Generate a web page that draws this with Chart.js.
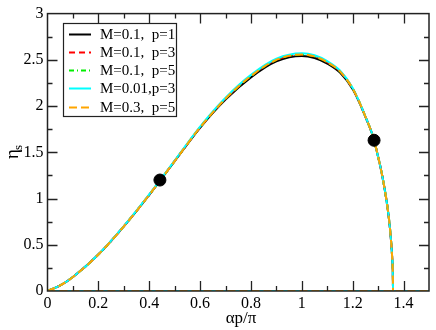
<!DOCTYPE html>
<html><head><meta charset="utf-8">
<script src="https://cdn.jsdelivr.net/npm/chart.js@4/dist/chart.umd.min.js"></script>
<style>html,body{margin:0;padding:0;background:#fff;}#wrap{width:436px;height:330px;}</style>
</head><body><div id="wrap"><canvas id="c" width="436" height="330"></canvas></div>
<script>
// ---- data ----
const xs      = [0,0.05,0.1,0.2,0.3,0.4,0.5,0.6,0.7,0.8,0.9,1.0,1.05,1.1,1.15,1.2,1.225,1.25,1.275,1.29,1.3,1.31,1.32,1.33,1.34,1.345,1.35,1.355,1.358,1.3585];
const yM03p5  = [0,0.06,0.152,0.394,0.699,1.040,1.405,1.770,2.080,2.325,2.500,2.559,2.537,2.475,2.375,2.190,2.050,1.885,1.710,1.565,1.450,1.330,1.190,1.030,0.840,0.720,0.570,0.370,0.150,0];
const yM01p1  = [0,0.06,0.152,0.394,0.699,1.040,1.405,1.765,2.070,2.310,2.483,2.542,2.520,2.460,2.362,2.183,2.046,1.883,1.710,1.565,1.450,1.330,1.190,1.030,0.840,0.720,0.570,0.370,0.150,0];
const yM01p3  = [0,0.06,0.152,0.394,0.699,1.040,1.405,1.770,2.080,2.325,2.500,2.559,2.537,2.475,2.375,2.190,2.050,1.885,1.710,1.565,1.450,1.330,1.190,1.030,0.840,0.720,0.570,0.370,0.150,0];
const yM01p5  = [0,0.06,0.152,0.394,0.699,1.040,1.405,1.770,2.080,2.325,2.500,2.559,2.537,2.475,2.375,2.190,2.050,1.885,1.710,1.565,1.450,1.330,1.190,1.030,0.840,0.720,0.570,0.370,0.150,0];
const yM001p3 = [0,0.06,0.152,0.395,0.701,1.044,1.411,1.778,2.090,2.337,2.512,2.571,2.549,2.486,2.384,2.196,2.053,1.887,1.711,1.565,1.450,1.330,1.190,1.030,0.840,0.720,0.570,0.370,0.150,0];
const zeroX   = [0,1.5];
const zeroY   = [0,0];
const dotX    = [0.442,1.284];
const dotY    = [1.2,1.63];
const xTicks  = [0,0.2,0.4,0.6,0.8,1,1.2,1.4];
const yTicks  = [0,0.5,1,1.5,2,2.5,3];
const labels  = ["M=0.1,  p=1","M=0.1,  p=3","M=0.1,  p=5","M=0.01,p=3","M=0.3,  p=5"];
const colors  = ["#000000","#ff0000","#00ee00","#00ffff","#ffa500"];
const dashes  = [[],[6,4],[5,3,1,3],[],[8,4]];

const pts = (X,Y)=>X.map((x,i)=>({x:x,y:Y[i]}));
const series = [yM01p1,yM01p3,yM01p5,yM001p3,yM03p5];
const datasets = [];
series.forEach((arr,i)=>{
  datasets.push({data:pts(xs,arr),borderColor:colors[i],borderDash:dashes[i],borderWidth:2,pointRadius:0,
    cubicInterpolationMode:'monotone',fill:false,order:6-i});
  datasets.push({data:pts(zeroX,zeroY),borderColor:colors[i],borderDash:dashes[i],borderWidth:2,pointRadius:0,fill:false,order:11-i});
});
datasets.push({data:pts(dotX,dotY),showLine:false,pointRadius:6,pointBackgroundColor:'#000',pointBorderColor:'#000',order:0});

const SERIF='"Liberation Serif"';
const overlay={
  id:'overlay',
  beforeDraw(chart){
    const ctx=chart.ctx; ctx.save(); ctx.fillStyle='#fff'; ctx.fillRect(0,0,chart.width,chart.height); ctx.restore();
  },
  afterDatasetsDraw(chart){
    const ctx=chart.ctx, a=chart.chartArea, xs_=chart.scales.x, ys_=chart.scales.y;
    ctx.save();
    ctx.strokeStyle='#222'; ctx.lineWidth=1.3; ctx.setLineDash([]);
    ctx.beginPath();
    for(let k=0;k<=15;k++){
      const v=k/10, px=Math.round(xs_.getPixelForValue(v))+0.5, L=(k%2===0)?10:5;
      if(px<=a.left+1||px>=a.right-1) continue;
      ctx.moveTo(px,a.bottom); ctx.lineTo(px,a.bottom-L);
      ctx.moveTo(px,a.top); ctx.lineTo(px,a.top+L);
    }
    for(let k=0;k<=12;k++){
      const v=k/4, py=Math.round(ys_.getPixelForValue(v))+0.5, L=(k%2===0)?10:5;
      if(py<=a.top+1||py>=a.bottom-1) continue;
      ctx.moveTo(a.left,py); ctx.lineTo(a.left+L,py);
      ctx.moveTo(a.right,py); ctx.lineTo(a.right-L,py);
    }
    ctx.stroke();
    ctx.lineWidth=1.5;
    ctx.strokeRect(a.left,a.top,a.right-a.left,a.bottom-a.top);
    const bx=63.5,by=23.5,bw=113,bh=93;
    ctx.fillStyle='#fff'; ctx.fillRect(bx,by,bw,bh);
    ctx.lineWidth=1.2; ctx.strokeStyle='#222'; ctx.strokeRect(bx,by,bw,bh);
    ctx.font='15px '+SERIF; ctx.textBaseline='middle'; ctx.textAlign='left';
    labels.forEach((t,i)=>{
      const y=Math.round(33.5+i*18.3)+0.5;
      ctx.strokeStyle=colors[i]; ctx.lineWidth=2; ctx.setLineDash(dashes[i]);
      ctx.beginPath(); ctx.moveTo(69,y); ctx.lineTo(91,y); ctx.stroke();
      ctx.setLineDash([]);
      ctx.fillStyle='#000'; ctx.fillText(t,100,y+1);
    });
    ctx.restore();
  },
  afterDraw(chart){
    const ctx=chart.ctx;
    ctx.save();
    ctx.fillStyle='#000';
    ctx.font='17px '+SERIF; ctx.textAlign='center'; ctx.textBaseline='alphabetic';
    ctx.fillText('\u03b1p/\u03c0',241,323);
    ctx.translate(18,152); ctx.rotate(-Math.PI/2);
    ctx.font='19px '+SERIF; ctx.textAlign='left';
    ctx.fillText('\u03b7',-7,0);
    ctx.font='13px '+SERIF;
    ctx.fillText('s',2,4);
    ctx.restore();
  }
};
const fmt=v=>String(Math.round(v*100)/100);
new Chart(document.getElementById('c'),{
  type:'line',
  data:{datasets:datasets},
  options:{
    responsive:false,animation:false,
    layout:{padding:{top:8,right:1.5,left:0,bottom:0}},
    plugins:{legend:{display:false},tooltip:{enabled:false}},
    scales:{
      x:{type:'linear',min:0,max:1.5,
        afterBuildTicks:s=>{s.ticks=xTicks.map(v=>({value:v}));},
        afterFit:s=>{s.height=39;},
        grid:{display:false,drawTicks:false},border:{display:false},
        ticks:{color:'#000',font:{family:SERIF,size:16},padding:3,maxRotation:0,autoSkip:false,callback:fmt}},
      y:{type:'linear',min:0,max:3,
        afterBuildTicks:s=>{s.ticks=yTicks.map(v=>({value:v}));},
        afterFit:s=>{s.width=47.5;},
        grid:{display:false,drawTicks:false},border:{display:false},
        ticks:{color:'#000',font:{family:SERIF,size:16},padding:4,autoSkip:false,callback:fmt}}
    }
  },
  plugins:[overlay]
});
</script></body></html>
